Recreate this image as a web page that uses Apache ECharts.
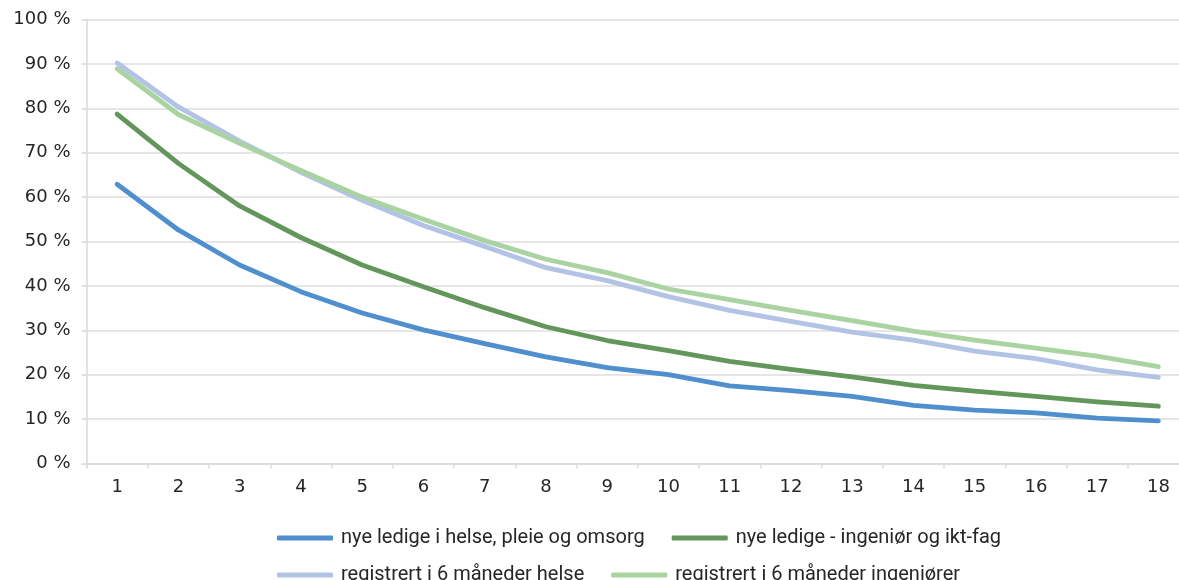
<!DOCTYPE html>
<html>
<head>
<meta charset="utf-8">
<script src="https://cdn.jsdelivr.net/npm/echarts@6/dist/echarts.min.js"></script>
<style>
html,body{margin:0;padding:0;background:#fff;overflow:hidden;width:1179px;height:580px;}
#chart{width:1189px;height:580px;}
</style>
</head>
<body>
<div id="chart"></div>
<script>
const categories = ['1','2','3','4','5','6','7','8','9','10','11','12','13','14','15','16','17','18'];
const yTicks = [0,10,20,30,40,50,60,70,80,90,100];
const seriesNames = [
  'nye ledige i helse, pleie og omsorg',
  'nye ledige - ingeniør og ikt-fag',
  'registrert i 6 måneder helse',
  'registrert i 6 måneder ingeniører'
];
const nyeHelse = [62.9,52.6,44.7,38.7,33.9,30.1,27.0,24.0,21.6,20.0,17.5,16.4,15.1,13.1,12.0,11.4,10.2,9.6];
const nyeIngenior = [78.7,67.6,58.0,50.9,44.7,39.8,35.1,30.8,27.7,25.4,23.0,21.2,19.5,17.6,16.3,15.1,13.9,12.9];
const regHelse = [90.2,80.3,72.6,65.6,59.3,53.6,48.9,44.1,41.2,37.6,34.5,32.0,29.6,27.8,25.3,23.6,21.1,19.4];
const regIngenior = [88.9,78.6,72.1,66.0,60.0,55.0,50.2,46.0,43.0,39.3,36.9,34.5,32.2,29.8,27.8,26.0,24.2,21.8];

const colors = ['#4f8fcd','#62965a','#b3c3e6','#a9d3a0'];
const dataSets = [nyeHelse, nyeIngenior, regHelse, regIngenior];

const chart = echarts.init(document.getElementById('chart'), null, {renderer:'canvas'});
const textColor = '#262626';
const font = 'DejaVu Sans';

const legendBase = {
  orient: 'horizontal',
  left: 277,
  padding: 0,
  itemWidth: 56,
  itemHeight: 5,
  itemGap: 27,
  icon: 'roundRect',
  textStyle: {fontFamily: 'Roboto', fontSize: 20, color: textColor, padding: [0,0,0,3]}
};

chart.setOption({
  animation: false,
  backgroundColor: '#fff',
  color: colors,
  grid: {left: 86.5, top: 19.5, right: 0, bottom: 116.5, containLabel: false},
  legend: [
    Object.assign({}, legendBase, {top: 528, data: [seriesNames[0], seriesNames[1]]}),
    Object.assign({}, legendBase, {top: 565, data: [seriesNames[2], seriesNames[3]]})
  ],
  xAxis: {
    type: 'category',
    data: categories,
    boundaryGap: true,
    axisLine: {show: true, lineStyle: {color: '#d9d9d9', width: 1.5}},
    axisTick: {show: true, length: 5, lineStyle: {color: '#d9d9d9', width: 1.5}},
    axisLabel: {fontFamily: font, fontSize: 18, color: textColor, margin: 15}
  },
  yAxis: {
    type: 'value',
    min: yTicks[0],
    max: yTicks[yTicks.length-1],
    interval: 10,
    axisLine: {show: true, lineStyle: {color: '#d9d9d9', width: 1.5}},
    axisTick: {show: true, length: 5, lineStyle: {color: '#d9d9d9', width: 1.5}},
    splitLine: {show: true, lineStyle: {color: '#dedede', width: 1.5}},
    axisLabel: {fontFamily: font, fontSize: 18, color: textColor, margin: 16, formatter: '{value} %'}
  },
  series: dataSets.map((d, i) => ({
    name: seriesNames[i],
    type: 'line',
    data: d,
    showSymbol: false,
    symbol: 'none',
    lineStyle: {width: 4.8, color: colors[i], cap: 'round', join: 'round'},
    itemStyle: {color: colors[i]}
  }))
});
</script>
</body>
</html>
